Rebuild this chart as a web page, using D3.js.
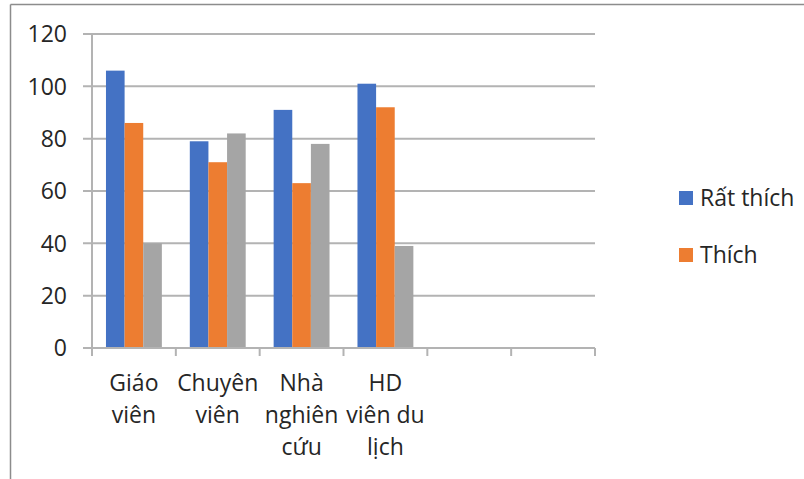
<!DOCTYPE html>
<html>
<head>
<meta charset="utf-8">
<script src="https://cdn.jsdelivr.net/npm/d3@7"></script>
<style>
  body { margin: 0; background: #fff; }
  svg { display: block; font-family: "Open Sans", "Liberation Sans", Arial, sans-serif; }
</style>
</head>
<body>
<svg id="chart" width="804" height="479"></svg>
<script>
// categories (last two empty, as in the source sheet)
const categories = ["Giáo viên", "Chuyên viên", "Nhà nghiên cứu", "HD viên du lịch", "", ""];
const categoryLines = [["Giáo", "viên"], ["Chuyên", "viên"], ["Nhà", "nghiên", "cứu"], ["HD", "viên du", "lịch"], [], []];
const seriesNames = ["Rất thích", "Thích", ""];
const ratThich = [106, 79, 91, 101, null, null];
const thich = [86, 71, 63, 92, null, null];
const series3 = [40, 82, 78, 39, null, null];
const yTicks = [0, 20, 40, 60, 80, 100, 120];
const colors = ["#4472C4", "#ED7D31", "#A5A5A5"];

const allSeries = [ratThich, thich, series3];
const fontSize = 23;

const svg = d3.select("#chart");
const margin = { top: 34, left: 92, right: 209, bottom: 131 };
const width = 804 - margin.left - margin.right,
      height = 479 - margin.top - margin.bottom;

// outer frame (only top and left visible in the crop)
svg.append("line").attr("x1", 10.5).attr("x2", 804).attr("y1", 4.5).attr("y2", 4.5)
  .attr("stroke", "#8c8c8c").attr("stroke-width", 1.5);
svg.append("line").attr("x1", 10.5).attr("x2", 10.5).attr("y1", 4.5).attr("y2", 479)
  .attr("stroke", "#8c8c8c").attr("stroke-width", 1.5);

const g = svg.append("g").attr("transform", `translate(${margin.left},${margin.top})`);

const x = d3.scaleBand().domain(d3.range(categories.length)).range([0, width]);
const y = d3.scaleLinear().domain([0, 120]).range([height, 0]);

// bars: gap width 150% like Excel
const barW = x.bandwidth() / 4.5;

// gridlines with small left tick
g.selectAll(".grid")
  .data(yTicks)
  .enter()
  .append("line")
  .attr("x1", -9).attr("x2", width)
  .attr("y1", d => y(d)).attr("y2", d => y(d))
  .attr("stroke", "#b3b3b3")
  .attr("stroke-width", 2);

yTicks.forEach(t => {
  g.append("text")
    .attr("x", -25)
    .attr("y", y(t))
    .attr("dy", "0.36em")
    .attr("text-anchor", "end")
    .attr("font-size", fontSize)
    .attr("fill", "#262626")
    .text(t);
});

allSeries.forEach((vals, s) => {
  g.selectAll(".bar" + s)
    .data(vals.map((v, i) => ({ v, i })).filter(d => d.v != null))
    .enter()
    .append("rect")
    .attr("x", d => x(d.i) + barW * 0.75 + s * barW)
    .attr("y", d => y(d.v))
    .attr("width", barW)
    .attr("height", d => height - y(d.v))
    .attr("fill", colors[s]);
});

// y axis line
g.append("line").attr("x1", 0).attr("x2", 0).attr("y1", 0).attr("y2", height)
  .attr("stroke", "#b3b3b3").attr("stroke-width", 2);

// x axis with tick marks between categories
g.append("line").attr("x1", 0).attr("x2", width).attr("y1", height).attr("y2", height)
  .attr("stroke", "#b3b3b3").attr("stroke-width", 2);
d3.range(categories.length + 1).forEach(i => {
  const xp = i < categories.length ? x(i) : width;
  g.append("line").attr("x1", xp).attr("x2", xp).attr("y1", height).attr("y2", height + 8)
    .attr("stroke", "#b3b3b3").attr("stroke-width", 2);
});

// category labels
categoryLines.forEach((lines, i) => {
  const t = g.append("text")
    .attr("text-anchor", "middle")
    .attr("font-size", fontSize)
    .attr("fill", "#262626");
  lines.forEach((ln, k) => {
    t.append("tspan")
      .attr("x", x(i) + x.bandwidth() / 2)
      .attr("y", height + 43 + k * 32)
      .text(ln);
  });
});

// legend (only two entries visible)
const legend = svg.append("g").attr("transform", "translate(679,191)");
[0, 1].forEach((s, k) => {
  legend.append("rect")
    .attr("x", 0).attr("y", k * 57)
    .attr("width", 14).attr("height", 14)
    .attr("fill", colors[s]);
  legend.append("text")
    .attr("x", 21).attr("y", k * 57 + 7)
    .attr("dy", "0.36em")
    .attr("font-size", fontSize)
    .attr("fill", "#262626")
    .text(seriesNames[s]);
});
</script>
</body>
</html>
